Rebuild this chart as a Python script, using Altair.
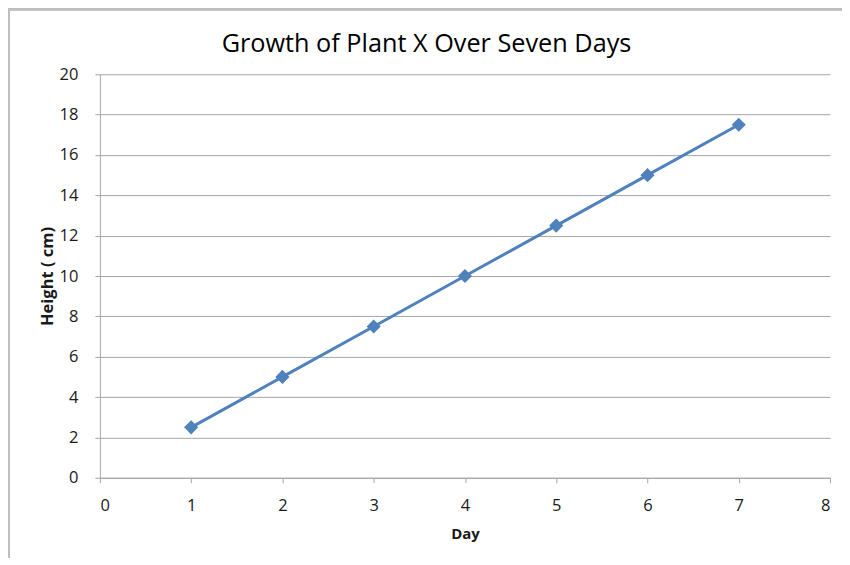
import altair as alt
import pandas as pd

days = [1, 2, 3, 4, 5, 6, 7]
heights = [2.5, 5, 7.5, 10, 12.5, 15, 17.5]
title_text = "Growth of Plant X Over Seven Days"
x_title = "Day"
y_title = "Height ( cm)"

df = pd.DataFrame({"Day": days, "Height": heights})
tdf = pd.DataFrame({"t": [title_text]})

FONT = "Open Sans"
W, H = 731, 404

x = alt.X("Day:Q", scale=alt.Scale(domain=[0, 8], nice=False, zero=True),
          axis=alt.Axis(title=x_title, values=list(range(0, 9)), format="d", grid=False,
                        domainColor="#A6A6A6", tickColor="#A6A6A6", tickSize=5,
                        labelFontSize=16.5, labelColor="#1a1a1a", labelPadding=15,
                        titleFontSize=15, titleFontWeight="bold", titlePadding=12,
                        labelFont=FONT, titleFont=FONT, titleColor="#1a1a1a"))
y = alt.Y("Height:Q", scale=alt.Scale(domain=[0, 20], nice=False),
          axis=alt.Axis(title=y_title, values=list(range(0, 21, 2)), format="d", grid=True,
                        gridColor="#A6A6A6", gridWidth=1,
                        domainColor="#A6A6A6", tickColor="#A6A6A6", tickSize=5,
                        labelFontSize=16.5, labelColor="#1a1a1a", labelPadding=17,
                        titleFontSize=16.5, titleFontWeight="bold", titlePadding=4,
                        labelFont=FONT, titleFont=FONT, titleColor="#1a1a1a"))

line = alt.Chart(df).mark_line(color="#4F81BD", strokeWidth=3).encode(x=x, y=y)
pts = alt.Chart(df).mark_point(shape="diamond", filled=True, size=200,
                               color="#4F81BD", opacity=1).encode(x="Day:Q", y="Height:Q")

title = alt.Chart(tdf).mark_text(font=FONT, fontSize=25.3, color="#000000",
                                 align="center", baseline="alphabetic").encode(
    text="t:N", x=alt.value(327), y=alt.value(-22))

frame_left = alt.Chart(df).mark_rule(color="#BFBFBF", strokeWidth=2, clip=False).encode(
    x=alt.value(-91), y=alt.value(-66), y2=alt.value(H + 100))
frame_top = alt.Chart(df).mark_rule(color="#BFBFBF", strokeWidth=2, clip=False).encode(
    x=alt.value(-91), x2=alt.value(W + 40), y=alt.value(-65))

chart = alt.layer(frame_left, frame_top, line, pts, title).properties(
    width=W, height=H,
    autosize=alt.AutoSizeParams(type="none"),
    padding={"left": 92, "top": 66, "right": 12, "bottom": 80},
).configure_view(stroke=None)

chart.save("out.html", embed_options={"renderer": "svg", "actions": False})
